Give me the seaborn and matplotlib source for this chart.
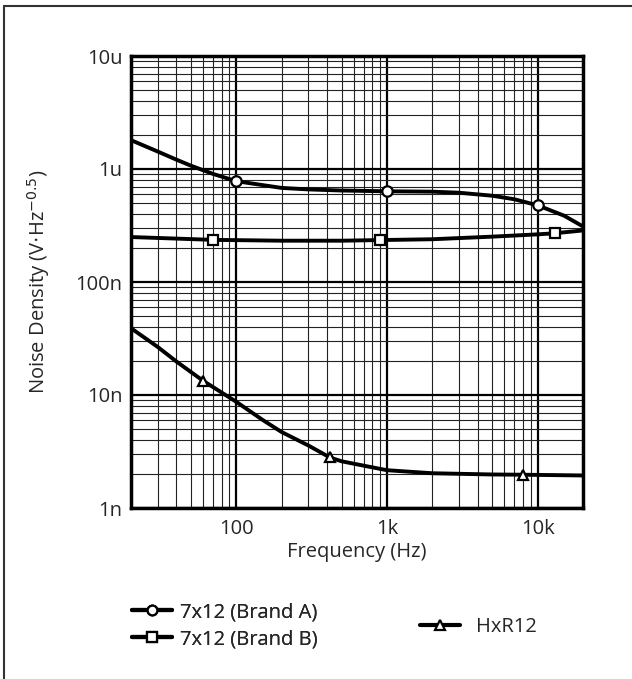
import matplotlib
matplotlib.use('Agg')
import numpy as np
import pandas as pd
import matplotlib.pyplot as plt
import seaborn as sns
from matplotlib.lines import Line2D
from matplotlib.ticker import FixedLocator, LogLocator, NullFormatter

# ---------------- data ----------------
freq_a = [20, 30, 40, 50, 70, 100, 150, 200, 300, 500, 1000, 2000, 3000, 5000, 7000,
          10000, 15000, 20000]
nd_a   = [1.8e-6, 1.43e-6, 1.21e-6, 1.07e-6, 0.905e-6, 0.78e-6, 0.72e-6, 0.68e-6, 0.66e-6,
          0.645e-6, 0.635e-6, 0.63e-6, 0.617e-6, 0.58e-6, 0.54e-6, 0.477e-6, 0.386e-6, 0.31e-6]
mk_freq_a = [100, 1000, 10000]
mk_nd_a   = [0.78e-6, 0.635e-6, 0.477e-6]

freq_b = [20, 70, 200, 500, 900, 2000, 5000, 10000, 13000, 20000]
nd_b   = [0.25e-6, 0.236e-6, 0.232e-6, 0.232e-6, 0.235e-6, 0.239e-6, 0.252e-6,
          0.264e-6, 0.27e-6, 0.286e-6]
mk_freq_b = [70, 900, 13000]
mk_nd_b   = [0.236e-6, 0.235e-6, 0.27e-6]

freq_h = [20, 30, 40, 60, 100, 150, 200, 300, 418, 500, 700, 1000, 2000, 5000, 8000, 20000]
nd_h   = [39e-9, 26.7e-9, 19.8e-9, 13.4e-9, 8.7e-9, 6.0e-9, 4.7e-9, 3.58e-9, 2.8e-9,
          2.59e-9, 2.37e-9, 2.16e-9, 2.03e-9, 1.98e-9, 1.97e-9, 1.94e-9]
mk_freq_h = [60, 418, 8000]
mk_nd_h   = [13.4e-9, 2.8e-9, 1.97e-9]

series_names = ['7x12 (Brand A)', '7x12 (Brand B)', 'HxR12']
x_ticks = [100, 1000, 10000]
x_tick_labels = ['100', '1k', '10k']
y_ticks = [1e-9, 1e-8, 1e-7, 1e-6, 1e-5]
y_tick_labels = ['1n', '10n', '100n', '1u', '10u']

sns.set_style('white')
plt.rcParams['font.family'] = ['Open Sans', 'DejaVu Sans']
FS = 14.5

curves = pd.concat([
    pd.DataFrame({'freq': freq_a, 'nd': nd_a, 'series': series_names[0]}),
    pd.DataFrame({'freq': freq_b, 'nd': nd_b, 'series': series_names[1]}),
    pd.DataFrame({'freq': freq_h, 'nd': nd_h, 'series': series_names[2]}),
], ignore_index=True)
marks = [(mk_freq_a, mk_nd_a, 'o'), (mk_freq_b, mk_nd_b, 's'), (mk_freq_h, mk_nd_h, '^')]

fig = plt.figure(figsize=(6.32, 6.79), dpi=100)
ax = fig.add_axes([131/632, 1 - 508/679, 452/632, 452/679])

sns.lineplot(data=curves, x='freq', y='nd', hue='series', palette=['black'] * 3,
             linewidth=2.8, legend=False, ax=ax, zorder=5)
for fx, fy, m in marks:
    ax.plot(fx, fy, linestyle='none', marker=m, markersize=7.5, markerfacecolor='white',
            markeredgecolor='black', markeredgewidth=1.6, zorder=6)

ax.set_xscale('log')
ax.set_yscale('log')
ax.set_xlim(20, 20000)
ax.set_ylim(1e-9, 1e-5)

ax.xaxis.set_major_locator(FixedLocator(x_ticks))
ax.set_xticklabels(x_tick_labels)
ax.yaxis.set_major_locator(FixedLocator(y_ticks))
ax.set_yticklabels(y_tick_labels)
ax.xaxis.set_minor_locator(LogLocator(base=10, subs=np.arange(2, 10)))
ax.yaxis.set_minor_locator(LogLocator(base=10, subs=np.arange(2, 10)))
ax.xaxis.set_minor_formatter(NullFormatter())
ax.yaxis.set_minor_formatter(NullFormatter())

ax.grid(True, which='major', color='black', linewidth=1.6)
ax.grid(True, which='minor', color='#222222', linewidth=0.8)
ax.tick_params(which='both', length=0, labelsize=FS)
ax.tick_params(axis='x', pad=8)
ax.tick_params(axis='y', pad=6)
for s in ax.spines.values():
    s.set_color('black')
    s.set_linewidth(2.5)

ax.set_xlabel('Frequency (Hz)', fontsize=FS, labelpad=2)
ax.set_ylabel(r'Noise Density (V$\cdot$Hz$^{-0.5}$)', fontsize=FS, labelpad=17)

# legends
def handle(m):
    return Line2D([], [], color='black', linewidth=3, marker=m, markersize=7,
                  markerfacecolor='white', markeredgecolor='black', markeredgewidth=1.6)

leg1 = fig.legend([handle('o'), handle('s')], series_names[:2], loc='upper left',
                  bbox_to_anchor=(122/632, 1 - 592/679), frameon=False, fontsize=FS,
                  handlelength=2.0, handletextpad=0.4, labelspacing=0.35, borderpad=0)
leg2 = fig.legend([handle('^')], series_names[2:], loc='upper left',
                  bbox_to_anchor=(410/632, 1 - 607/679), frameon=False, fontsize=FS,
                  handlelength=2.0, handletextpad=0.8, borderpad=0)
fig.add_artist(leg1)

# outer frame (only top and left edges are visible in the source)
fig.add_artist(Line2D([4/632, 4/632], [0, 1 - 6/679], transform=fig.transFigure,
                      color='#333333', linewidth=1.5))
fig.add_artist(Line2D([4/632, 1], [1 - 6/679, 1 - 6/679], transform=fig.transFigure,
                      color='#333333', linewidth=1.5))

fig.savefig('out.png', dpi=100)
